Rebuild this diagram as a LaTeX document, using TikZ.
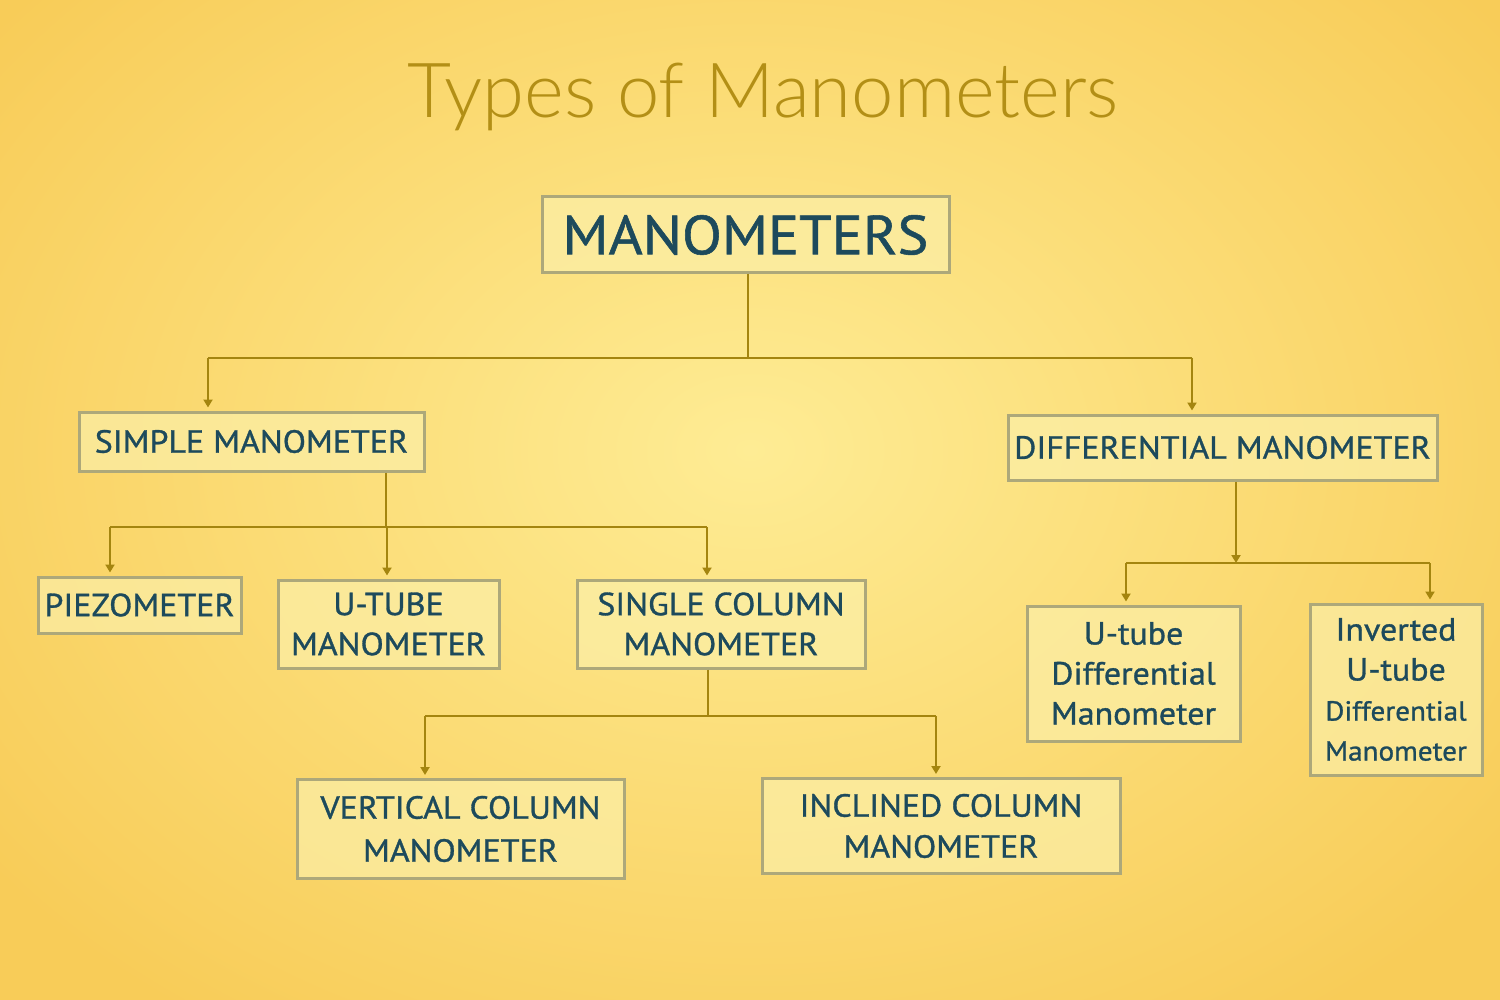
\documentclass[tikz,border=0pt]{standalone}
\usepackage{fontspec}
\setmainfont{PT Sans}
\newfontfamily\titlefont{Lato Light}
\newfontfamily\boxfont[FakeStretch=1.06,FakeBold=1]{PT Sans}
\usetikzlibrary{arrows.meta}
\definecolor{txt}{HTML}{1D4A5C}
\definecolor{ttl}{HTML}{B38F16}
\definecolor{bord}{HTML}{ADA87A}
\definecolor{boxfill}{HTML}{FBEFA8}
\definecolor{conn}{HTML}{A4850F}
\definecolor{bgin}{HTML}{FEEC94}
\definecolor{bgout}{HTML}{F8CC58}
\begin{document}
\begin{tikzpicture}[x=1pt,y=-1pt,
  tbox/.style={draw=bord,line width=3pt,fill=boxfill,fill opacity=0.7,text opacity=1,
    text=txt,align=center,inner sep=0pt,font=\boxfont\fontsize{32}{40}\selectfont},
  link/.style={draw=conn,line width=2pt},
  arr/.style={link,-{Triangle[width=9pt,length=8pt]},shorten >=3pt}]
\useasboundingbox (0,0) rectangle (1500,1000);
\shade[inner color=bgin,outer color=bgout] (-200,-250) rectangle (1700,1150);
\node[text=ttl,font=\titlefont\fontsize{76}{90}\selectfont] (title) at (763,97) {Types of Manometers};
\node[tbox,minimum width=407pt,minimum height=76pt,font=\boxfont\fontsize{55}{60}\selectfont] (man) at (745.5,235) {MANOMETERS};
\node[tbox,minimum width=345pt,minimum height=59pt] (simple) at (251.5,441.5) {SIMPLE MANOMETER};
\node[tbox,minimum width=429pt,minimum height=65pt] (diff) at (1222.5,447.5) {DIFFERENTIAL MANOMETER};
\node[tbox,minimum width=203pt,minimum height=56pt] (piezo) at (139.5,605) {PIEZOMETER};
\node[tbox,minimum width=221pt,minimum height=88pt] (utube) at (388.5,624) {U-TUBE\\MANOMETER};
\node[tbox,minimum width=288pt,minimum height=88pt] (single) at (721,624) {SINGLE COLUMN\\MANOMETER};
\node[tbox,minimum width=327pt,minimum height=99pt,font=\boxfont\fontsize{32}{43}\selectfont] (vert) at (460.5,829) {VERTICAL COLUMN\\MANOMETER};
\node[tbox,minimum width=358pt,minimum height=95pt,font=\boxfont\fontsize{32}{41}\selectfont] (incl) at (941,826) {INCLINED COLUMN\\MANOMETER};
\node[tbox,minimum width=213pt,minimum height=135pt] (udiff) at (1133.5,673.5) {U-tube\\Differential\\Manometer};
\node[tbox,minimum width=172pt,minimum height=171pt] (inv) at (1396,689.5) {\fontsize{32}{39}\selectfont Inverted\\U-tube\\\fontsize{27.5}{39}\selectfont Differential\\\fontsize{27.5}{39}\selectfont Manometer};
% level 1
\coordinate (j1) at (748,358);
\coordinate (j1L) at (208,358);
\coordinate (j1R) at (1192,358);
\draw[link] (man.south -| j1) -- (j1);
\draw[link] (j1L) -- (j1R);
\draw[arr] (j1L) -- (j1L |- simple.north);
\draw[arr] (j1R) -- (j1R |- diff.north);
% simple
\coordinate (j2) at (386,527);
\coordinate (j2L) at (110,527);
\coordinate (j2M) at (387,527);
\coordinate (j2R) at (707,527);
\draw[link] (simple.south -| j2) -- (j2);
\draw[link] (j2L) -- (j2R);
\draw[arr] (j2L) -- (j2L |- piezo.north);
\draw[arr] (j2M) -- (j2M |- utube.north);
\draw[arr] (j2R) -- (j2R |- single.north);
% single
\coordinate (j3) at (708,716);
\coordinate (j3L) at (425,716);
\coordinate (j3R) at (936,716);
\draw[link] (single.south -| j3) -- (j3);
\draw[link] (j3L) -- (j3R);
\draw[arr] (j3L) -- (j3L |- vert.north);
\draw[arr] (j3R) -- (j3R |- incl.north);
% differential
\coordinate (j4) at (1236,563);
\coordinate (j4L) at (1126,563);
\coordinate (j4R) at (1430,563);
\draw[arr,shorten >=0pt] (diff.south -| j4) -- (j4);
\draw[link] (j4L) -- (j4R);
\draw[arr] (j4L) -- (j4L |- udiff.north);
\draw[arr] (j4R) -- (j4R |- inv.north);
\end{tikzpicture}
\end{document}
